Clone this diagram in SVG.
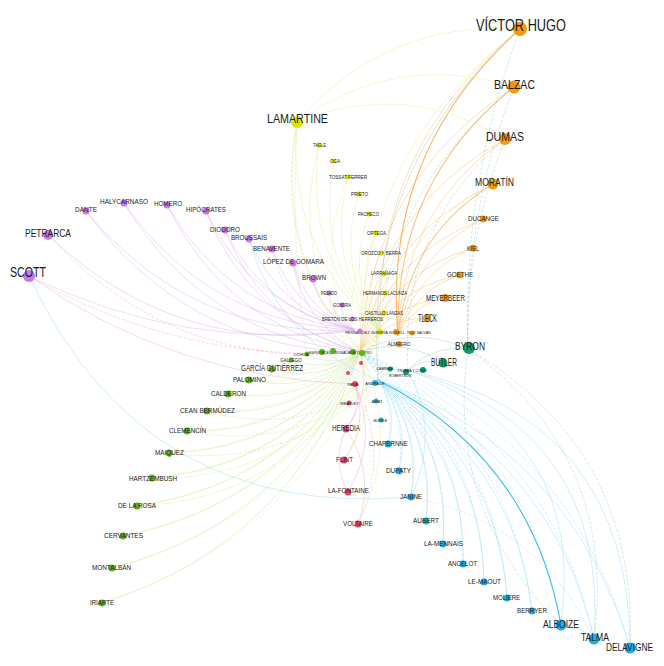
<svg xmlns="http://www.w3.org/2000/svg" width="664" height="666" viewBox="0 0 664 666">
<style>
.e{fill:none;stroke-width:.65;stroke-opacity:.65}
.p{stroke:#dcaaf0}.g{stroke:#bfe39a}.y{stroke:#e3ec8e}.o{stroke:#f7b760}.b{stroke:#8fd8f3}.r{stroke:#f3a2b6}.t{stroke:#a3c9b4}
.d{stroke-dasharray:3 1.6}
.s{stroke-width:1.1;stroke-opacity:1}
text{font-family:"Liberation Sans",Arial,sans-serif;fill:#1a1a1a;text-anchor:middle}
.no{fill:#f59a0e}.ny{fill:#dbe600}.np{fill:#c678e6}.ng{fill:#5fb31a}.nr{fill:#e8456b}.nb{fill:#1eb0e4}.nt{fill:#0c9a6c}
</style>
<rect width="664" height="666" fill="#fff"/>
<g id="edges">
<path class="e o s" d="M398,336 Q382,152 520,29"/>
<path class="e o" d="M380,332 Q374,146 520,29"/>
<path class="e y" d="M360,352 Q359,151 520,29"/>
<path class="e t" d="M378,380 Q361,169 520,29"/>
<path class="e o s" style="stroke-opacity:.8" d="M398,336 Q394,183 514,87"/>
<path class="e o" d="M360,352 Q371,181 514,87"/>
<path class="e t d" d="M378,380 Q373,200 514,87"/>
<path class="e o" d="M398,336 Q402,211 505,139"/>
<path class="e o" d="M360,352 Q379,209 505,139"/>
<path class="e t d" d="M408,370 Q399,230 505,139"/>
<path class="e o s" style="stroke-opacity:.7" d="M398,336 Q408,236 493,184"/>
<path class="e o" d="M360,352 Q385,235 493,184"/>
<path class="e y" d="M380,332 Q400,230 493,184"/>
<path class="e o" d="M398,336 Q411,256 483,219"/>
<path class="e o" d="M360,352 Q388,255 483,219"/>
<path class="e o" d="M398,336 Q414,273 473,248"/>
<path class="e o" d="M360,352 Q391,272 473,248"/>
<path class="e o" d="M398,336 Q414,290 460,275"/>
<path class="e o" d="M360,352 Q391,289 460,275"/>
<path class="e o" d="M398,336 Q412,305 445,298"/>
<path class="e o" d="M360,352 Q389,304 445,298"/>
<path class="e o" d="M398,336 Q408,320 427,318"/>
<path class="e o" d="M360,352 Q385,318 427,318"/>
<path class="e y" d="M297,122 Q385,20 520,29"/>
<path class="e y" d="M297,122 Q397,50 514,87"/>
<path class="e y" d="M297,122 Q405,79 505,139"/>
<path class="e t d" d="M468,349 Q465,240 505,139"/>
<path class="e t d" d="M468,349 Q465,213 514,87"/>
<path class="e t d" d="M468,349 Q462,184 520,29"/>
<path class="e y" d="M380,332 Q286,248 297,122"/>
<path class="e y" d="M360,352 Q271,253 297,122"/>
<path class="e g d" d="M378,380 Q273,271 297,122"/>
<path class="e g d" d="M307,354 Q290,240 297,122"/>
<path class="e y" d="M380,332 Q303,254 319,145"/>
<path class="e y" d="M360,352 Q288,259 319,145"/>
<path class="e y" d="M380,332 Q314,258 334,161"/>
<path class="e y" d="M380,332 Q325,263 348,177"/>
<path class="e y d" d="M360,352 Q310,268 348,177"/>
<path class="e y" d="M380,332 Q335,268 359,194"/>
<path class="e y" d="M380,332 Q345,276 369,214"/>
<path class="e y" d="M380,332 Q353,284 376,233"/>
<path class="e y d" d="M360,352 Q338,289 376,233"/>
<path class="e y" d="M380,332 Q361,292 381,253"/>
<path class="e y" d="M380,332 Q368,302 384,274"/>
<path class="e y" d="M380,332 Q373,311 385,293"/>
<path class="e y" d="M380,332 Q377,322 384,313"/>
<path class="e p" d="M355,330 Q184,352 29,276"/>
<path class="e r" d="M355,384 Q176,379 29,276"/>
<path class="e r d" d="M360,352 Q183,364 29,276"/>
<path class="e b" d="M411,497 Q143,520 29,276"/>
<path class="e p" d="M355,330 Q178,359 48,235"/>
<path class="e r d" d="M360,352 Q175,372 48,235"/>
<path class="e p" d="M355,330 Q191,338 86,211"/>
<path class="e p" d="M360,352 Q188,350 86,211"/>
<path class="e p" d="M355,330 Q208,324 124,203"/>
<path class="e p" d="M360,352 Q205,337 124,203"/>
<path class="e p" d="M355,330 Q230,315 167,205"/>
<path class="e p" d="M360,352 Q227,327 167,205"/>
<path class="e p" d="M355,330 Q251,308 206,211"/>
<path class="e p" d="M360,352 Q248,320 206,211"/>
<path class="e p" d="M355,330 Q265,313 225,230"/>
<path class="e p" d="M360,352 Q262,325 225,230"/>
<path class="e p" d="M355,330 Q279,311 249,239"/>
<path class="e b" d="M378,380 Q278,342 249,239"/>
<path class="e p" d="M355,330 Q293,310 272,249"/>
<path class="e p d" d="M360,352 Q290,323 272,249"/>
<path class="e p" d="M355,330 Q307,312 293,263"/>
<path class="e p" d="M360,352 Q304,324 293,263"/>
<path class="e p" d="M355,330 Q321,315 313,279"/>
<path class="e p" d="M355,330 Q333,318 329,293"/>
<path class="e p" d="M355,330 Q342,321 342,305"/>
<path class="e g" d="M360,352 Q320,383 272,369"/>
<path class="e g" d="M360,352 Q312,394 249,380"/>
<path class="e g" d="M360,352 Q305,406 228,394"/>
<path class="e g" d="M360,352 Q298,420 207,411"/>
<path class="e g" d="M360,352 Q293,435 187,431"/>
<path class="e g" d="M360,352 Q290,450 169,453"/>
<path class="e g" d="M360,352 Q288,467 152,478"/>
<path class="e g" d="M360,352 Q287,485 137,506"/>
<path class="e g" d="M360,352 Q288,503 123,536"/>
<path class="e g" d="M360,352 Q290,522 112,568"/>
<path class="e g" d="M360,352 Q294,542 102,603"/>
<path class="e g" d="M360,352 Q327,373 291,360"/>
<path class="e g" d="M360,352 Q334,369 307,354"/>
<path class="e y d" d="M380,332 Q335,378 272,369"/>
<path class="e y d" d="M380,332 Q327,389 249,380"/>
<path class="e y d" d="M380,332 Q320,401 228,394"/>
<path class="e y d" d="M380,332 Q313,415 207,411"/>
<path class="e y d" d="M380,332 Q308,430 187,431"/>
<path class="e y d" d="M380,332 Q305,445 169,453"/>
<path class="e y d" d="M380,332 Q303,462 152,478"/>
<path class="e y d" d="M380,332 Q302,480 137,506"/>
<path class="e y d" d="M380,332 Q303,498 123,536"/>
<path class="e y d" d="M380,332 Q305,517 112,568"/>
<path class="e y d" d="M380,332 Q309,537 102,603"/>
<path class="e g d" d="M378,380 Q300,438 207,411"/>
<path class="e g d" d="M378,380 Q295,453 187,431"/>
<path class="e g d" d="M378,380 Q292,469 169,453"/>
<path class="e y" d="M355,384 Q277,482 152,478"/>
<path class="e y" d="M355,384 Q277,500 137,506"/>
<path class="e r" d="M355,384 Q362,409 346,429"/>
<path class="e r" d="M360,352 Q372,394 346,429"/>
<path class="e r" d="M355,384 Q369,425 344,460"/>
<path class="e y" d="M360,352 Q379,410 344,460"/>
<path class="e r" d="M355,384 Q379,440 348,492"/>
<path class="e r" d="M346,429 Q376,473 358,524"/>
<path class="e r" d="M348,492 Q331,461 346,429"/>
<path class="e r d" d="M355,384 Q391,453 358,524"/>
<path class="e y" d="M360,352 Q402,439 358,524"/>
<path class="e b" d="M378,380 Q399,410 388,444"/>
<path class="e b" d="M378,380 Q411,420 399,471"/>
<path class="e b" d="M378,380 Q424,430 411,497"/>
<path class="e b" d="M378,380 Q437,439 426,521"/>
<path class="e b" d="M378,380 Q452,446 443,544"/>
<path class="e b" d="M378,380 Q467,451 463,564"/>
<path class="e b" d="M378,380 Q482,455 484,582"/>
<path class="e b" d="M378,380 Q497,457 507,598"/>
<path class="e b" d="M378,380 Q513,457 532,611"/>
<path class="e b s" style="stroke:#35bdee" d="M378,380 Q531,457 561,625"/>
<path class="e b" d="M378,380 Q551,456 594,639"/>
<path class="e b" d="M378,380 Q571,451 630,648"/>
<path class="e b d" d="M360,352 Q397,391 388,444"/>
<path class="e b d" d="M360,352 Q409,402 399,471"/>
<path class="e b d" d="M360,352 Q422,412 411,497"/>
<path class="e b d" d="M360,352 Q435,420 426,521"/>
<path class="e b d" d="M360,352 Q450,427 443,544"/>
<path class="e b d" d="M360,352 Q465,432 463,564"/>
<path class="e b d" d="M360,352 Q480,436 484,582"/>
<path class="e b d" d="M360,352 Q495,438 507,598"/>
<path class="e b d" d="M360,352 Q511,439 532,611"/>
<path class="e b d" d="M360,352 Q529,438 561,625"/>
<path class="e b d" d="M360,352 Q549,437 594,639"/>
<path class="e b d" d="M360,352 Q569,433 630,648"/>
<path class="e b" d="M408,370 Q587,436 561,625"/>
<path class="e b" d="M408,370 Q609,430 594,639"/>
<path class="e b" d="M408,370 Q630,420 630,648"/>
<path class="e b" d="M408,370 Q441,433 411,497"/>
<path class="e b d" d="M411,497 Q538,522 594,639"/>
<path class="e b" d="M561,625 Q580,626 594,639"/>
<path class="e t" d="M408,370 Q433,345 468,349"/>
<path class="e t" d="M360,352 Q413,324 468,349"/>
<path class="e t" d="M408,370 Q424,358 443,363"/>
<path class="e t" d="M360,352 Q404,337 443,363"/>
<path class="e t d" d="M468,349 Q639,450 630,648"/>
<path class="e t d" d="M468,349 Q618,456 594,639"/>
<path class="e t d" d="M468,349 Q445,510 561,625"/>
</g>
<g id="n-victor-hugo"><circle class="no" cx="520" cy="29" r="7"/><text x="521" y="31" font-size="17" textLength="90" lengthAdjust="spacingAndGlyphs">VÍCTOR HUGO</text></g>
<g id="n-balzac"><circle class="no" cx="514" cy="87" r="6.5"/><text x="514.5" y="89" font-size="13" textLength="41" lengthAdjust="spacingAndGlyphs">BALZAC</text></g>
<g id="n-dumas"><circle class="no" cx="505" cy="139" r="6"/><text x="505" y="141" font-size="13" textLength="38" lengthAdjust="spacingAndGlyphs">DUMAS</text></g>
<g id="n-moratin"><circle class="no" cx="493" cy="184" r="5.5"/><text x="494.5" y="186" font-size="10.5" textLength="39" lengthAdjust="spacingAndGlyphs">MORATÍN</text></g>
<g id="n-ducange"><circle class="no" cx="483" cy="219" r="3.5"/><text x="483.5" y="220.5" font-size="7" textLength="31" lengthAdjust="spacingAndGlyphs">DUCANGE</text></g>
<g id="n-kiel"><circle class="no" cx="473" cy="248" r="3.5"/><text x="473" y="250.5" font-size="7" textLength="12" lengthAdjust="spacingAndGlyphs">KIEL</text></g>
<g id="n-goethe"><circle class="no" cx="460" cy="275" r="3.5"/><text x="460" y="276.5" font-size="7" textLength="26" lengthAdjust="spacingAndGlyphs">GOETHE</text></g>
<g id="n-meyerbeer"><circle class="no" cx="445" cy="298" r="4"/><text x="445.5" y="300.5" font-size="9" textLength="39" lengthAdjust="spacingAndGlyphs">MEYERBEER</text></g>
<g id="n-tleck"><circle class="no" cx="427" cy="318" r="4"/><text x="427.5" y="321.5" font-size="10" textLength="19" lengthAdjust="spacingAndGlyphs">TLECK</text></g>
<g id="n-rosell"><circle class="no" cx="396" cy="332" r="3"/><text x="397" y="334" font-size="4">ROSELL</text></g>
<g id="n-ruiz-salvan"><circle class="no" cx="412" cy="333" r="2.5"/><text x="419" y="334" font-size="3.6">RUIZ SALVÁN</text></g>
<g id="n-almagro"><circle class="no" cx="399" cy="344" r="3"/><text x="399" y="345.5" font-size="4.5">ALMAGRO</text></g>
<g id="n-lamartine"><circle class="ny" cx="297" cy="122" r="6"/><text x="297.5" y="123" font-size="13" textLength="61" lengthAdjust="spacingAndGlyphs">LAMARTINE</text></g>
<g id="n-tagle"><circle class="ny" cx="319" cy="145" r="2.5"/><text x="319.5" y="147" font-size="5.5" textLength="13" lengthAdjust="spacingAndGlyphs">TAGLE</text></g>
<g id="n-oca"><circle class="ny" cx="334" cy="161" r="2.5"/><text x="335" y="162.5" font-size="5.5" textLength="10" lengthAdjust="spacingAndGlyphs">OCA</text></g>
<g id="n-tossat"><circle class="ny" cx="348" cy="177" r="2.5"/><text x="348" y="178.5" font-size="5.5" textLength="38" lengthAdjust="spacingAndGlyphs">TOSSAT FERRER</text></g>
<g id="n-prieto"><circle class="ny" cx="359" cy="194" r="2.5"/><text x="359.5" y="195.5" font-size="5.5" textLength="17" lengthAdjust="spacingAndGlyphs">PRIETO</text></g>
<g id="n-pacheco"><circle class="ny" cx="369" cy="214" r="2.5"/><text x="368.5" y="215.5" font-size="5.5" textLength="21" lengthAdjust="spacingAndGlyphs">PACHECO</text></g>
<g id="n-ortega"><circle class="ny" cx="376" cy="233" r="2.5"/><text x="376.5" y="234.5" font-size="5.5" textLength="19" lengthAdjust="spacingAndGlyphs">ORTEGA</text></g>
<g id="n-orozco"><circle class="ny" cx="381" cy="253" r="2.5"/><text x="381" y="254.5" font-size="5.5" textLength="40" lengthAdjust="spacingAndGlyphs">OROZCO Y BERRA</text></g>
<g id="n-larranaga"><circle class="ny" cx="384" cy="274" r="2.5"/><text x="384" y="275" font-size="5.5" textLength="26" lengthAdjust="spacingAndGlyphs">LARRAÑAGA</text></g>
<g id="n-lacunza"><circle class="ny" cx="385" cy="293" r="2.5"/><text x="385" y="294.5" font-size="5.5" textLength="44" lengthAdjust="spacingAndGlyphs">HERMANOS LACUNZA</text></g>
<g id="n-castillo"><circle class="ny" cx="384" cy="313" r="2.5"/><text x="384" y="314.5" font-size="5.5" textLength="38" lengthAdjust="spacingAndGlyphs">CASTILLO LANZAS</text></g>
<g id="n-fernandez"><circle class="ny" cx="380" cy="332" r="3"/><text x="366.5" y="334" font-size="4">FERNÁNDEZ GUERRA</text></g>
<g id="n-scott"><circle class="np" cx="29" cy="276" r="6"/><text x="28" y="277" font-size="14" textLength="36" lengthAdjust="spacingAndGlyphs">SCOTT</text></g>
<g id="n-petrarca"><circle class="np" cx="48" cy="235" r="5"/><text x="48" y="237" font-size="11" textLength="46" lengthAdjust="spacingAndGlyphs">PETRARCA</text></g>
<g id="n-dante"><circle class="np" cx="86" cy="211" r="3.5"/><text x="86" y="212" font-size="7.5" textLength="22" lengthAdjust="spacingAndGlyphs">DANTE</text></g>
<g id="n-halycarnaso"><circle class="np" cx="124" cy="203" r="3.5"/><text x="124" y="204" font-size="7.5" textLength="48" lengthAdjust="spacingAndGlyphs">HALYCARNASO</text></g>
<g id="n-homero"><circle class="np" cx="167" cy="205" r="3.5"/><text x="168" y="206" font-size="7.5" textLength="28" lengthAdjust="spacingAndGlyphs">HOMERO</text></g>
<g id="n-hipocrates"><circle class="np" cx="206" cy="211" r="3.5"/><text x="206" y="212" font-size="7.5" textLength="40" lengthAdjust="spacingAndGlyphs">HIPÓCRATES</text></g>
<g id="n-diodoro"><circle class="np" cx="225" cy="230" r="3.5"/><text x="225" y="232" font-size="8" textLength="30" lengthAdjust="spacingAndGlyphs">DIODORO</text></g>
<g id="n-broussais"><circle class="np" cx="249" cy="239" r="3.5"/><text x="249" y="240" font-size="8" textLength="36" lengthAdjust="spacingAndGlyphs">BROUSSAIS</text></g>
<g id="n-benavente"><circle class="np" cx="272" cy="249" r="3.5"/><text x="271.5" y="251" font-size="8" textLength="37" lengthAdjust="spacingAndGlyphs">BENAVENTE</text></g>
<g id="n-lopez"><circle class="np" cx="293" cy="263" r="3.5"/><text x="293.5" y="264" font-size="8" textLength="61" lengthAdjust="spacingAndGlyphs">LÓPEZ DE GOMARA</text></g>
<g id="n-brown"><circle class="np" cx="313" cy="279" r="3.5"/><text x="314" y="280" font-size="8" textLength="24" lengthAdjust="spacingAndGlyphs">BROWN</text></g>
<g id="n-pesado"><circle class="np" cx="329" cy="293" r="2.5"/><text x="329" y="294.5" font-size="5.5" textLength="16" lengthAdjust="spacingAndGlyphs">PESADO</text></g>
<g id="n-gondra"><circle class="np" cx="342" cy="305" r="2.5"/><text x="342" y="306.5" font-size="5.5" textLength="18" lengthAdjust="spacingAndGlyphs">GONDRA</text></g>
<g id="n-breton"><circle class="np" cx="352" cy="319" r="2.5"/><text x="352.5" y="320.5" font-size="5.5" textLength="61" lengthAdjust="spacingAndGlyphs">BRETÓN DE LOS HERREROS</text></g>
<g id="n-purple-c"><circle class="np" cx="360" cy="331" r="2.5"/></g>
<g id="n-garcia"><circle class="ng" cx="272" cy="369" r="3.5"/><text x="272" y="371" font-size="8.5" textLength="62" lengthAdjust="spacingAndGlyphs">GARCÍA GUTIÉRREZ</text></g>
<g id="n-palomino"><circle class="ng" cx="249" cy="380" r="3.5"/><text x="249.5" y="382" font-size="8" textLength="33" lengthAdjust="spacingAndGlyphs">PALOMINO</text></g>
<g id="n-calderon"><circle class="ng" cx="228" cy="394" r="3.5"/><text x="228.5" y="396" font-size="8" textLength="35" lengthAdjust="spacingAndGlyphs">CALDERON</text></g>
<g id="n-cean"><circle class="ng" cx="207" cy="411" r="3.5"/><text x="207.5" y="413" font-size="8" textLength="55" lengthAdjust="spacingAndGlyphs">CEAN BERMÚDEZ</text></g>
<g id="n-clemencin"><circle class="ng" cx="187" cy="431" r="3.5"/><text x="187.5" y="433" font-size="8" textLength="37" lengthAdjust="spacingAndGlyphs">CLEMENCÍN</text></g>
<g id="n-maiquez"><circle class="ng" cx="169" cy="453" r="3.5"/><text x="169.5" y="455" font-size="8" textLength="29" lengthAdjust="spacingAndGlyphs">MAIQUEZ</text></g>
<g id="n-hartzembush"><circle class="ng" cx="152" cy="478" r="3.5"/><text x="153" y="480.5" font-size="7.5" textLength="48" lengthAdjust="spacingAndGlyphs">HARTZEMBUSH</text></g>
<g id="n-de-la-rosa"><circle class="ng" cx="137" cy="506" r="3.5"/><text x="137" y="507.5" font-size="8" textLength="38" lengthAdjust="spacingAndGlyphs">DE LA ROSA</text></g>
<g id="n-cervantes"><circle class="ng" cx="123" cy="536" r="3.5"/><text x="123.5" y="537.5" font-size="7.5" textLength="39" lengthAdjust="spacingAndGlyphs">CERVANTES</text></g>
<g id="n-montalban"><circle class="ng" cx="112" cy="568" r="3.5"/><text x="111.5" y="570" font-size="7.5" textLength="39" lengthAdjust="spacingAndGlyphs">MONTALBÁN</text></g>
<g id="n-iriarte"><circle class="ng" cx="102" cy="603" r="3.5"/><text x="102" y="604.5" font-size="7.5" textLength="24" lengthAdjust="spacingAndGlyphs">IRIARTE</text></g>
<g id="n-gallego"><circle class="ng" cx="291" cy="360" r="2.5"/><text x="291" y="361.5" font-size="4.5">GALLEGO</text></g>
<g id="n-ochoa"><circle class="ng" cx="307" cy="354" r="2.5"/><text x="301" y="355.5" font-size="4">OCHOA</text></g>
<g id="n-espronceda"><circle class="ng" cx="322" cy="352" r="3"/><text x="321.5" y="353.5" font-size="3.5">ESPRONCEDA</text></g>
<g id="n-green-c1"><circle class="ng" cx="333" cy="351" r="3"/></g>
<g id="n-castro"><circle class="ng" cx="353" cy="352" r="3"/><text x="353.5" y="353.5" font-size="3.5">ROSALÍA DE CASTRO</text></g>
<g id="n-green-hub"><circle class="ng" cx="362" cy="353" r="3"/></g>
<g id="n-heredia"><circle class="nr" cx="346" cy="429" r="3.5"/><text x="346" y="431" font-size="8.5" textLength="28" lengthAdjust="spacingAndGlyphs">HEREDIA</text></g>
<g id="n-flint"><circle class="nr" cx="344" cy="460" r="3.5"/><text x="344.5" y="462" font-size="8" textLength="17" lengthAdjust="spacingAndGlyphs">FLINT</text></g>
<g id="n-la-fontaine"><circle class="nr" cx="348" cy="492" r="3.5"/><text x="348.5" y="493" font-size="8" textLength="41" lengthAdjust="spacingAndGlyphs">LA-FONTAINE</text></g>
<g id="n-voltaire"><circle class="nr" cx="358" cy="524" r="3.5"/><text x="358" y="526" font-size="8" textLength="30" lengthAdjust="spacingAndGlyphs">VOLTAIRE</text></g>
<g id="n-pavia"><circle class="nr" cx="355" cy="384" r="3"/><text x="353" y="385.5" font-size="4">PAVÍA</text></g>
<g id="n-weatley"><circle class="nr" cx="349" cy="403" r="2.5"/><text x="349.5" y="404.5" font-size="4">WEATLEY</text></g>
<g id="n-red-c1"><circle class="nr" cx="361" cy="363" r="2"/></g>
<g id="n-red-c2"><circle class="nr" cx="348" cy="373" r="2"/></g>
<g id="n-andrade"><circle class="nb" cx="375" cy="383" r="3"/><text x="375" y="385" font-size="4">ANDRADE</text></g>
<g id="n-amat"><circle class="nb" cx="376" cy="401" r="2.5"/><text x="377" y="402.5" font-size="4">AMAT</text></g>
<g id="n-burke"><circle class="nb" cx="381" cy="420" r="2.5"/><text x="380.5" y="421.5" font-size="4">BURKE</text></g>
<g id="n-chapernne"><circle class="nb" cx="388" cy="444" r="3.5"/><text x="388.5" y="446" font-size="8" textLength="39" lengthAdjust="spacingAndGlyphs">CHAPERNNE</text></g>
<g id="n-dupaty"><circle class="nb" cx="399" cy="471" r="3.5"/><text x="398.5" y="473" font-size="8" textLength="25" lengthAdjust="spacingAndGlyphs">DUPATY</text></g>
<g id="n-janine"><circle class="nb" cx="411" cy="497" r="3.5"/><text x="411" y="499" font-size="8" textLength="22" lengthAdjust="spacingAndGlyphs">JANINE</text></g>
<g id="n-aubert"><circle class="nb" cx="426" cy="521" r="3.5"/><text x="426" y="523" font-size="8" textLength="26" lengthAdjust="spacingAndGlyphs">AUBERT</text></g>
<g id="n-la-mennais"><circle class="nb" cx="443" cy="544" r="3.5"/><text x="443.5" y="546" font-size="8" textLength="39" lengthAdjust="spacingAndGlyphs">LA-MENNAIS</text></g>
<g id="n-ancelot"><circle class="nb" cx="463" cy="564" r="3.5"/><text x="462.5" y="566" font-size="8" textLength="29" lengthAdjust="spacingAndGlyphs">ANCELOT</text></g>
<g id="n-le-maout"><circle class="nb" cx="484" cy="582" r="3.5"/><text x="484.5" y="584" font-size="8" textLength="33" lengthAdjust="spacingAndGlyphs">LE-MAOUT</text></g>
<g id="n-moliere"><circle class="nb" cx="507" cy="598" r="3.5"/><text x="506.5" y="600" font-size="7.5" textLength="27" lengthAdjust="spacingAndGlyphs">MOLIERE</text></g>
<g id="n-berryer"><circle class="nb" cx="532" cy="611" r="3.5"/><text x="532" y="613" font-size="7.5" textLength="30" lengthAdjust="spacingAndGlyphs">BERRYER</text></g>
<g id="n-alboize"><circle class="nb" cx="561" cy="625" r="5.5"/><text x="561" y="628" font-size="10.5" textLength="36" lengthAdjust="spacingAndGlyphs">ALBOIZE</text></g>
<g id="n-talma"><circle class="nb" cx="594" cy="639" r="5.5"/><text x="595" y="641" font-size="10" textLength="28" lengthAdjust="spacingAndGlyphs">TALMA</text></g>
<g id="n-delavigne"><circle class="nb" cx="630" cy="648" r="5.5"/><text x="629.5" y="651" font-size="10.5" textLength="47" lengthAdjust="spacingAndGlyphs">DELAVIGNE</text></g>
<g id="n-byron"><circle class="nt" cx="469" cy="348" r="6"/><text x="470" y="350" font-size="11" textLength="30" lengthAdjust="spacingAndGlyphs">BYRON</text></g>
<g id="n-butler"><circle class="nt" cx="443" cy="363" r="4.5"/><text x="444" y="366" font-size="10" textLength="26" lengthAdjust="spacingAndGlyphs">BUTLER</text></g>
<g id="n-cabrera"><circle class="nt" cx="390" cy="369" r="2.5"/><text x="385" y="369.5" font-size="3.5">CABRERA</text></g>
<g id="n-robertson"><circle class="nt" cx="406" cy="372" r="3"/><text x="400" y="377" font-size="3.5">ROBERTSON</text></g>
<g id="n-trueba"><circle class="nt" cx="423" cy="370" r="3"/><text x="412" y="371.5" font-size="3.5">TRUEBA Y COSÍO</text></g>
</svg>
